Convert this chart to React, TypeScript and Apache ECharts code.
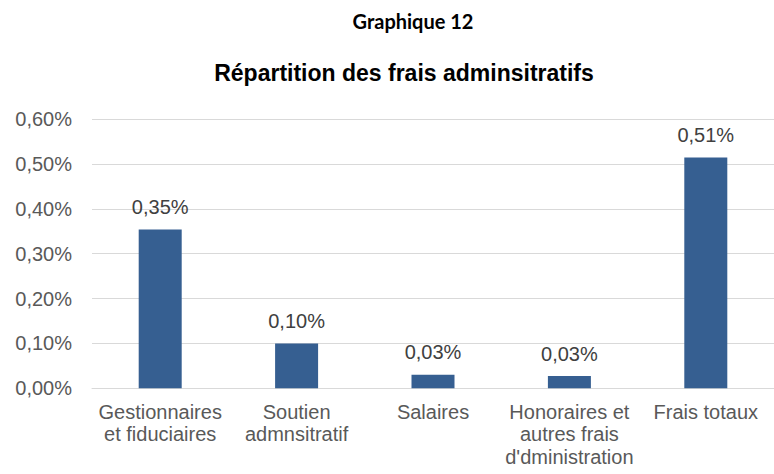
import React, { useEffect, useRef } from "react";
import * as echarts from "echarts";

const categories = [
  "Gestionnaires\net fiduciaires",
  "Soutien\nadmnsitratif",
  "Salaires",
  "Honoraires et\nautres frais\nd'dministration",
  "Frais totaux",
];
const values = [0.354, 0.1, 0.0303, 0.0274, 0.514];
const yTicks = { min: 0, max: 0.6, interval: 0.1 };
const headTitle = "Graphique 12";
const chartTitle = "Répartition des frais adminsitratifs";

const fmt = (v: number) => v.toFixed(2).replace(".", ",") + "%";

export default function App() {
  const ref = useRef<HTMLDivElement>(null);
  useEffect(() => {
    if (!ref.current) return;
    const chart = echarts.init(ref.current, null, { renderer: "svg" });
    chart.setOption({
      animation: false,
      backgroundColor: "#ffffff",
      graphic: [
        {
          type: "text",
          x: 413,
          y: 21,
          style: {
            text: headTitle,
            textAlign: "center",
            textVerticalAlign: "middle",
            fontFamily: "Lato",
            fontWeight: "bold",
            fontSize: 20,
            fill: "#000000",
          },
        },
        {
          type: "text",
          x: 404,
          y: 73,
          style: {
            text: chartTitle,
            textAlign: "center",
            textVerticalAlign: "middle",
            fontFamily: "Liberation Sans",
            fontWeight: "bold",
            fontSize: 23,
            fill: "#000000",
          },
        },
      ],
      grid: { left: 92, top: 119, width: 691.5, height: 269.3, containLabel: false },
      xAxis: {
        type: "category",
        data: categories,
        axisLine: { show: true, lineStyle: { color: "#D9D9D9", width: 1 } },
        axisTick: { show: false },
        axisLabel: {
          interval: 0,
          margin: 12,
          color: "#595959",
          fontFamily: "Liberation Sans",
          fontSize: 20,
          lineHeight: 22.5,
          align: "center",
        },
      },
      yAxis: {
        type: "value",
        min: yTicks.min,
        max: yTicks.max,
        interval: yTicks.interval,
        axisLine: { show: false },
        axisTick: { show: false },
        splitLine: { lineStyle: { color: "#D9D9D9", width: 1 } },
        axisLabel: {
          margin: 20,
          color: "#595959",
          fontFamily: "Liberation Sans",
          fontSize: 20,
          formatter: (v: number) => fmt(v),
        },
      },
      series: [
        {
          type: "bar",
          data: values,
          barWidth: 43,
          itemStyle: { color: "#365F91" },
          label: {
            show: true,
            position: "top",
            distance: 12.5,
            color: "#404040",
            fontFamily: "Liberation Sans",
            fontSize: 20,
            formatter: (p: any) => fmt(p.value),
          },
        },
      ],
    });
    return () => chart.dispose();
  }, []);
  return (
    <div
      ref={ref}
      style={{ position: "fixed", left: 0, top: 0, width: 774, height: 474 }}
    />
  );
}
